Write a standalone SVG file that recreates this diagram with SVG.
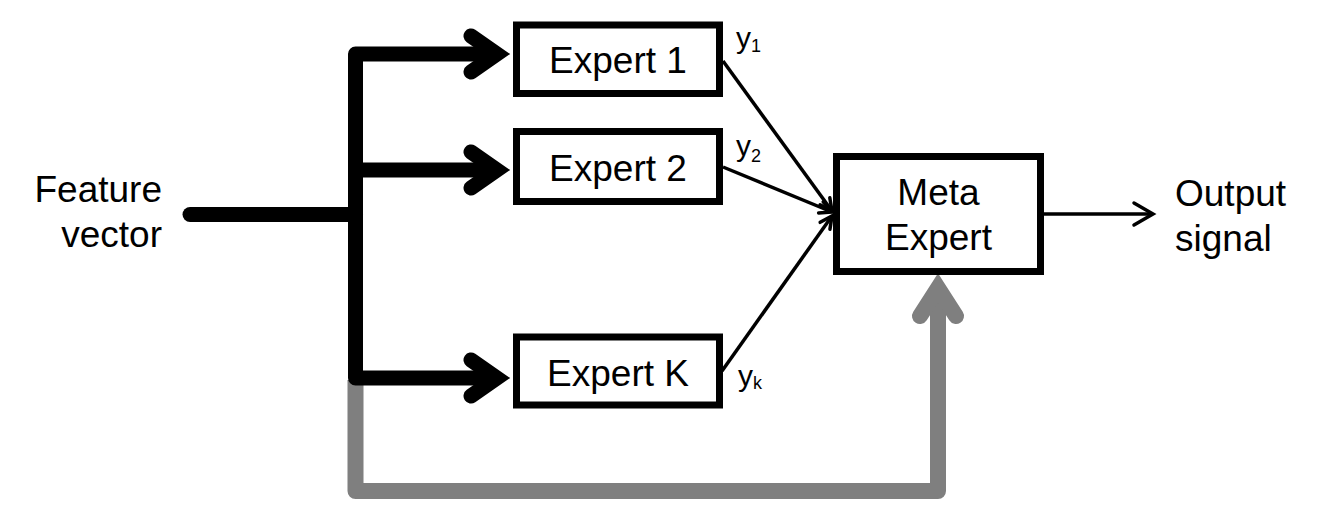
<svg xmlns="http://www.w3.org/2000/svg" width="1342" height="526" viewBox="0 0 1342 526">
<defs>
<style>
.box{fill:#fff;stroke:#000;stroke-width:7}
.lbl{font-family:"Liberation Sans",Arial,sans-serif;font-size:37px;fill:#000}
.ylbl{font-family:"Liberation Sans",Arial,sans-serif;font-size:30px;fill:#000}
.sub{font-size:18px}
.thick{fill:none;stroke:#000;stroke-width:15;stroke-linejoin:round}
.gray{fill:none;stroke:#7f7f7f;stroke-width:16;stroke-linejoin:round}
.head{fill:none;stroke-linejoin:miter;stroke-linecap:round}
.thin{fill:none;stroke:#000;stroke-width:3.5}
</style>
<marker id="arr" markerUnits="userSpaceOnUse" markerWidth="30" markerHeight="30" viewBox="-24 -15 30 30" refX="0" refY="0" orient="auto">
<path d="M-12,-6 L0,0 L-12,6" fill="none" stroke="#000" stroke-width="3.5" stroke-linecap="round"/>
</marker>
<marker id="arrOut" markerUnits="userSpaceOnUse" markerWidth="40" markerHeight="40" viewBox="-30 -20 40 40" refX="0" refY="0" orient="auto">
<path d="M-19,-11 L0,0 L-19,11" fill="none" stroke="#000" stroke-width="3.5" stroke-linecap="round"/>
</marker>
</defs>
<rect width="1342" height="526" fill="#fff"/>
<g id="connectors">
<path class="gray" d="M355.5 380 V491 H938 V290"/>
<path class="head" stroke="#7f7f7f" stroke-width="16" d="M920 316 L938 288 L956 316"/>
<path class="thick" d="M190 214.5 H355.5" stroke-linecap="round"/>
<path class="thick" d="M497 54 H355.5 V378 H497"/>
<path class="thick" d="M355.5 170 H497"/>
<path class="head" stroke="#000" stroke-width="15" d="M471 36 L497 54 L471 72"/>
<path class="head" stroke="#000" stroke-width="15" d="M471 152 L497 170 L471 188"/>
<path class="head" stroke="#000" stroke-width="15" d="M471 360 L497 378 L471 396"/>
<line class="thin" x1="723" y1="61" x2="832" y2="211" marker-end="url(#arr)"/>
<line class="thin" x1="723" y1="167" x2="832" y2="212" marker-end="url(#arr)"/>
<line class="thin" x1="722" y1="371" x2="832" y2="216" marker-end="url(#arr)"/>
<line class="thin" x1="1043" y1="214" x2="1153" y2="214" marker-end="url(#arrOut)"/>
</g>
<g id="feature-vector">
<text class="lbl" x="162" y="202" text-anchor="end">Feature</text>
<text class="lbl" x="162" y="247" text-anchor="end">vector</text>
</g>
<g id="expert1">
<rect class="box" x="516.5" y="25" width="203" height="68.5"/>
<text class="lbl" x="618" y="73" text-anchor="middle">Expert 1</text>
</g>
<g id="expert2">
<rect class="box" x="516.5" y="131.5" width="203" height="70"/>
<text class="lbl" x="618" y="181" text-anchor="middle">Expert 2</text>
</g>
<g id="expertK">
<rect class="box" x="516.5" y="337" width="203" height="68"/>
<text class="lbl" x="618" y="386" text-anchor="middle">Expert K</text>
</g>
<g id="meta-expert">
<rect class="box" x="836.5" y="156.5" width="204" height="115"/>
<text class="lbl" x="938.5" y="205" text-anchor="middle">Meta</text>
<text class="lbl" x="938.5" y="250" text-anchor="middle">Expert</text>
</g>
<g id="output-signal">
<text class="lbl" x="1175" y="206">Output</text>
<text class="lbl" x="1175" y="251">signal</text>
</g>
<g id="labels">
<text class="ylbl" x="736" y="48">y<tspan class="sub" dy="4">1</tspan></text>
<text class="ylbl" x="736" y="156">y<tspan class="sub" dy="6">2</tspan></text>
<text class="ylbl" x="738" y="386">y<tspan class="sub" dy="3">k</tspan></text>
</g>
</svg>
